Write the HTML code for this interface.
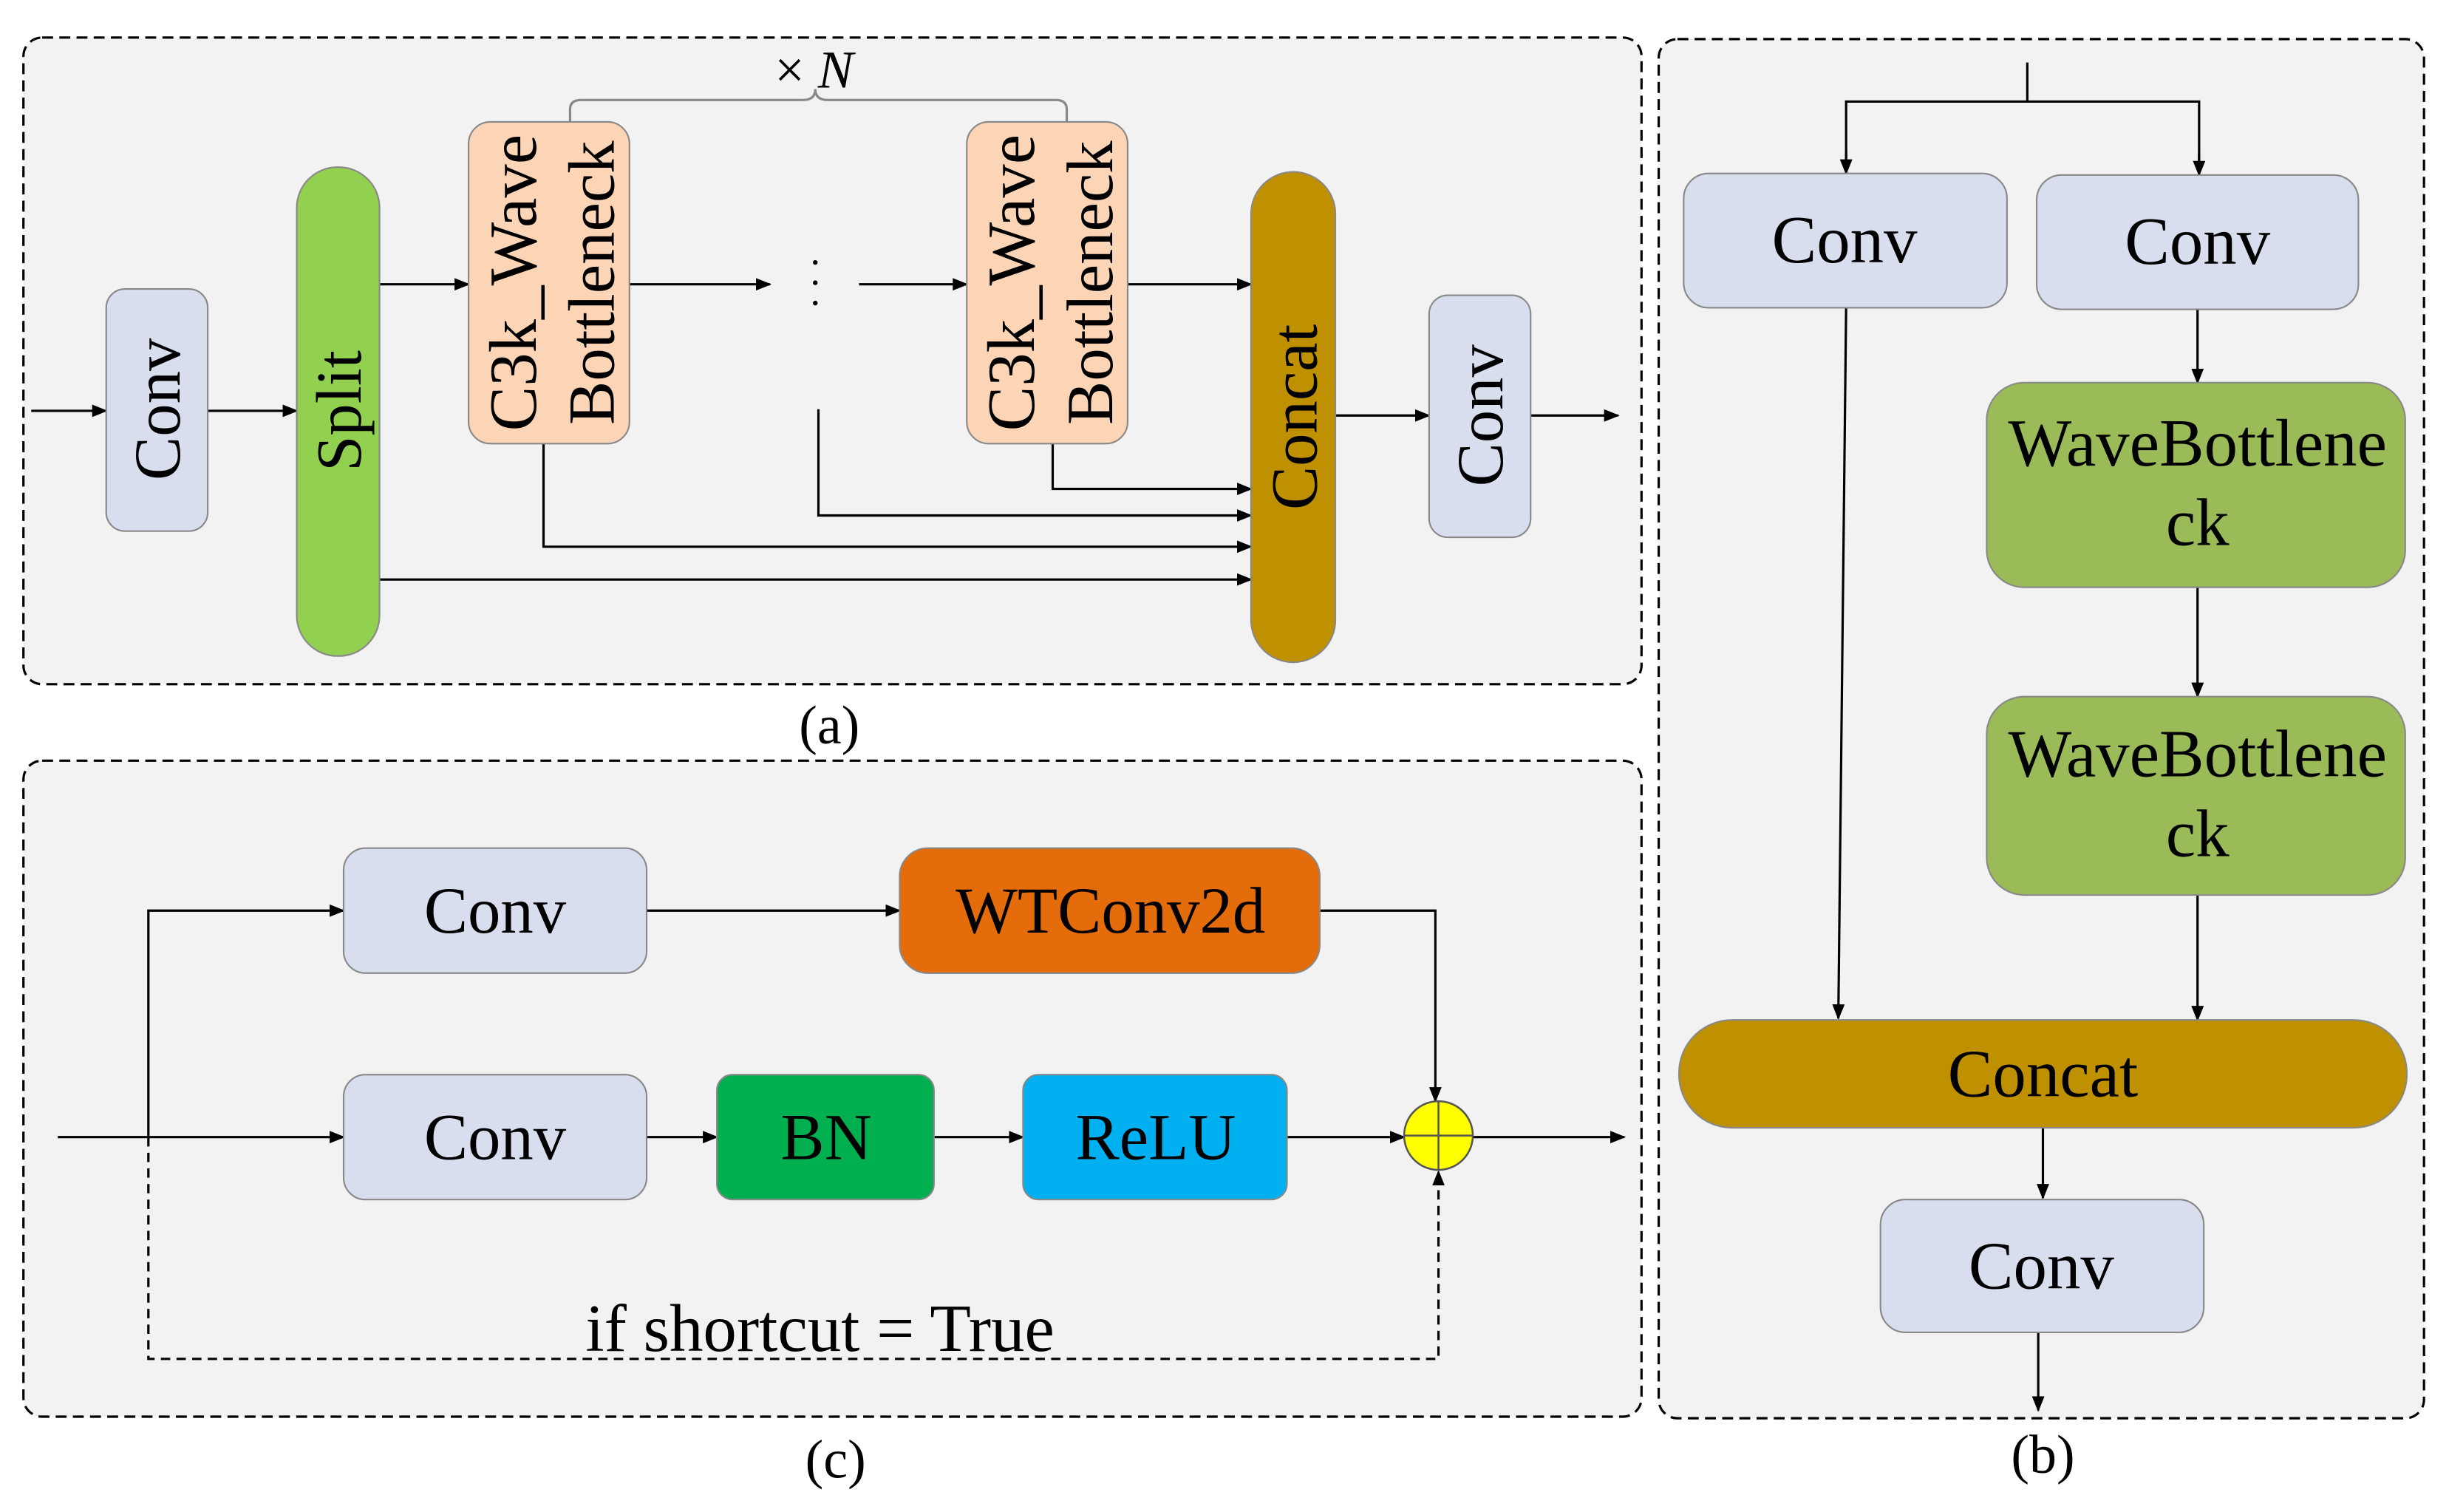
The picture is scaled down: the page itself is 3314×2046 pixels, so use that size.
<!DOCTYPE html>
<html><head><meta charset="utf-8"><style>
html,body{margin:0;padding:0;background:#fff;}
svg{display:block;}
text{font-family:"Liberation Serif",serif;fill:#000;}
</style></head><body>
<svg width="3314" height="2046" viewBox="0 0 1568 968" xmlns="http://www.w3.org/2000/svg">
<defs>
<marker id="ar" markerWidth="10" markerHeight="8" refX="9" refY="4" orient="auto" markerUnits="userSpaceOnUse">
<path d="M0,0 L10,4 L0,8 Z" fill="#000"/></marker>
</defs>
<rect width="1568" height="968" fill="#fff"/>
<rect x="15" y="24" width="1036" height="414" rx="12" fill="#f2f2f2" stroke="#000" stroke-width="1.5" stroke-dasharray="7,4"/>
<rect x="15" y="487" width="1036" height="420" rx="12" fill="#f2f2f2" stroke="#000" stroke-width="1.5" stroke-dasharray="7,4"/>
<rect x="1062" y="25" width="490" height="883" rx="12" fill="#f2f2f2" stroke="#000" stroke-width="1.5" stroke-dasharray="7,4"/>
<text x="531" y="476" font-size="35" text-anchor="middle">(a)</text>
<text x="535" y="946" font-size="35" text-anchor="middle">(c)</text>
<text x="1308" y="943" font-size="35" text-anchor="middle">(b)</text>

<g stroke="#000" stroke-width="1.5" fill="none">
<line x1="20" y1="263" x2="68" y2="263" marker-end="url(#ar)"/>
<line x1="133" y1="263" x2="190" y2="263" marker-end="url(#ar)"/>
<line x1="243" y1="182" x2="300" y2="182" marker-end="url(#ar)"/>
<line x1="403" y1="182" x2="493" y2="182" marker-end="url(#ar)"/>
<line x1="550" y1="182" x2="619" y2="182" marker-end="url(#ar)"/>
<line x1="722" y1="182" x2="801" y2="182" marker-end="url(#ar)"/>
<polyline points="524,262 524,330 801,330" marker-end="url(#ar)"/>
<polyline points="674,284 674,313 801,313" marker-end="url(#ar)"/>
<polyline points="348,284 348,350 801,350" marker-end="url(#ar)"/>
<line x1="243" y1="371" x2="801" y2="371" marker-end="url(#ar)"/>
<line x1="855" y1="266" x2="915" y2="266" marker-end="url(#ar)"/>
<line x1="980" y1="266" x2="1036" y2="266" marker-end="url(#ar)"/>
<path d="M365,78 L365,70 Q365,64 372,64 L514,64 Q522,64 522,57 Q522,64 530,64 L676,64 Q683,64 683,70 L683,78" stroke="#888"/>
<line x1="37" y1="728" x2="220" y2="728" marker-end="url(#ar)"/>
<polyline points="95,728 95,583 220,583" marker-end="url(#ar)"/>
<line x1="414" y1="583" x2="576" y2="583" marker-end="url(#ar)"/>
<polyline points="845,583 919,583 919,705" marker-end="url(#ar)"/>
<line x1="414" y1="728" x2="459" y2="728" marker-end="url(#ar)"/>
<line x1="598" y1="728" x2="655" y2="728" marker-end="url(#ar)"/>
<line x1="824" y1="728" x2="899" y2="728" marker-end="url(#ar)"/>
<line x1="943" y1="728" x2="1040" y2="728" marker-end="url(#ar)"/>
<polyline points="95,728 95,870 921,870 921,750" stroke-dasharray="6,4" marker-end="url(#ar)"/>
<line x1="1298" y1="40" x2="1298" y2="65"/>
<polyline points="1182,111 1182,65 1408,65 1408,111"/>
<line x1="1182" y1="98" x2="1182" y2="111" marker-end="url(#ar)"/>
<line x1="1408" y1="98" x2="1408" y2="112" marker-end="url(#ar)"/>
<line x1="1407" y1="198" x2="1407" y2="245" marker-end="url(#ar)"/>
<line x1="1407" y1="376" x2="1407" y2="446" marker-end="url(#ar)"/>
<line x1="1407" y1="573" x2="1407" y2="653" marker-end="url(#ar)"/>
<line x1="1182" y1="197" x2="1177" y2="652" marker-end="url(#ar)"/>
<line x1="1308" y1="722" x2="1308" y2="767" marker-end="url(#ar)"/>
<line x1="1305" y1="853" x2="1305" y2="903" marker-end="url(#ar)"/>
</g>
<text x="496" y="56" font-size="34">× <tspan font-style="italic">N</tspan></text>
<g fill="#000"><circle cx="522" cy="168" r="1.5"/><circle cx="522" cy="181" r="1.5"/><circle cx="522" cy="194" r="1.5"/></g>

<g stroke="#888" stroke-width="1">
<rect x="68" y="185" width="65" height="155" rx="12" fill="#d9deef"/>
<rect x="190" y="107" width="53" height="313" rx="26" fill="#92d050"/>
<rect x="300" y="78" width="103" height="206" rx="14" fill="#fbd5b5"/>
<rect x="619" y="78" width="103" height="206" rx="14" fill="#fbd5b5"/>
<rect x="801" y="110" width="54" height="314" rx="27" fill="#bf9000"/>
<rect x="915" y="189" width="65" height="155" rx="12" fill="#d9deef"/>
</g>
<g font-size="42" text-anchor="middle">
<text transform="translate(115,262) rotate(-90)">Conv</text>
<text transform="translate(231,263) rotate(-90)" font-size="41">Split</text>
<text transform="translate(343,181) rotate(-90)" font-size="43">C3k_Wave</text>
<text transform="translate(393,181) rotate(-90)">Bottleneck</text>
<text transform="translate(662,181) rotate(-90)" font-size="43">C3k_Wave</text>
<text transform="translate(712,181) rotate(-90)">Bottleneck</text>
<text transform="translate(843,267) rotate(-90)">Concat</text>
<text transform="translate(962,266) rotate(-90)">Conv</text>
</g>

<g stroke="#888" stroke-width="1">
<rect x="220" y="543" width="194" height="80" rx="14" fill="#d9deef"/>
<rect x="576" y="543" width="269" height="80" rx="18" fill="#e46c0a"/>
<rect x="220" y="688" width="194" height="80" rx="14" fill="#d9deef"/>
<rect x="459" y="688" width="139" height="80" rx="10" fill="#00b050"/>
<rect x="655" y="688" width="169" height="80" rx="10" fill="#00b0f0"/>
</g>
<circle cx="921" cy="727" r="22" fill="#ffff00" stroke="#555" stroke-width="1.2"/>
<line x1="899" y1="727" x2="943" y2="727" stroke="#555" stroke-width="1.2"/>
<line x1="921" y1="705" x2="921" y2="749" stroke="#555" stroke-width="1.2"/>
<g font-size="42" text-anchor="middle">
<text x="317" y="597">Conv</text>
<text x="711" y="597">WTConv2d</text>
<text x="317" y="742">Conv</text>
<text x="529" y="742">BN</text>
<text x="740" y="742">ReLU</text>
<text x="525" y="865" font-size="43">if shortcut = True</text>
</g>

<g stroke="#888" stroke-width="1">
<rect x="1078" y="111" width="207" height="86" rx="16" fill="#d9deef"/>
<rect x="1304" y="112" width="206" height="86" rx="16" fill="#d9deef"/>
<rect x="1272" y="245" width="268" height="131" rx="24" fill="#9bbb59"/>
<rect x="1272" y="446" width="268" height="127" rx="24" fill="#9bbb59"/>
<rect x="1075" y="653" width="466" height="69" rx="34" fill="#bf9000"/>
<rect x="1204" y="768" width="207" height="85" rx="16" fill="#d9deef"/>
</g>
<g font-size="43" text-anchor="middle">
<text x="1181" y="168">Conv</text>
<text x="1407" y="169">Conv</text>
<text x="1407" y="298">WaveBottlene</text>
<text x="1407" y="349">ck</text>
<text x="1407" y="497">WaveBottlene</text>
<text x="1407" y="548">ck</text>
<text x="1308" y="702">Concat</text>
<text x="1307" y="825">Conv</text>
</g>
</svg>
</body></html>
